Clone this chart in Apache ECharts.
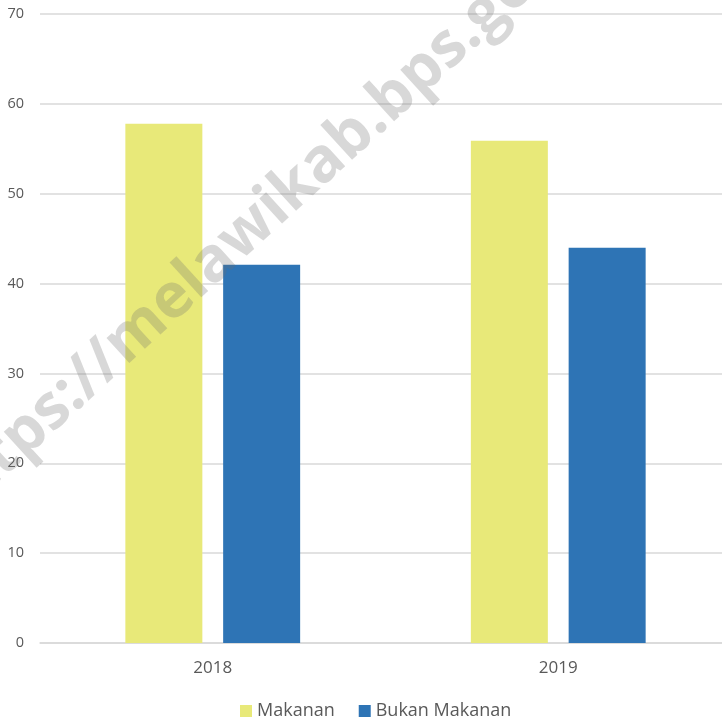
<!DOCTYPE html>
<html><head><meta charset="utf-8">
<script src="https://cdn.jsdelivr.net/npm/echarts@6/dist/echarts.min.js"></script>
<style>html,body{margin:0;padding:0;background:#fff}#c{width:722px;height:723px}</style>
</head><body><div id="c"></div>
<script>
const categories = ['2018', '2019'];
const makanan = [57.8, 55.9];
const bukanMakanan = [42.1, 44.0];
const seriesNames = ['Makanan', 'Bukan Makanan'];
const yTicks = [0, 10, 20, 30, 40, 50, 60, 70];

const chart = echarts.init(document.getElementById('c'));
chart.setOption({
  animation: false,
  grid: { left: 40, width: 691, top: 14, bottom: 80, containLabel: false, outerBoundsMode: 'none' },
  legend: {
    top: 702, left: 240, padding: 0, itemWidth: 12, itemHeight: 12, itemGap: 24,
    icon: 'rect',
    textStyle: { fontSize: 18, color: '#595959', fontFamily: 'Open Sans' },
    data: seriesNames
  },
  xAxis: {
    type: 'category', data: categories,
    axisLine: { lineStyle: { color: '#d9d9d9', width: 1.5 } },
    axisTick: { show: false },
    axisLabel: { fontSize: 17, color: '#595959', margin: 17, fontFamily: 'Open Sans' }
  },
  yAxis: {
    type: 'value', min: yTicks[0], max: yTicks[yTicks.length - 1], interval: 10,
    axisLine: { show: false }, axisTick: { show: false },
    axisLabel: { fontSize: 14.5, color: '#595959', margin: 16, fontFamily: 'Open Sans' },
    splitLine: { lineStyle: { color: '#d9d9d9', width: 1.5 } }
  },
  series: [
    { name: seriesNames[0], type: 'bar', data: makanan, barWidth: 77, barGap: '27%',
      itemStyle: { color: '#e8e979' } },
    { name: seriesNames[1], type: 'bar', data: bukanMakanan, barWidth: 77, barGap: '27%',
      itemStyle: { color: '#2e74b5' } }
  ],
  graphic: [{
    type: 'text', x: 262, y: 218, rotation: 0.74, z: 100,
    style: {
      text: 'https://melawikab.bps.go.id', fontSize: 62, fontWeight: 'bold',
      fontFamily: 'Open Sans', fill: 'rgba(110,110,110,0.27)',
      align: 'center', verticalAlign: 'middle'
    }
  }]
});
</script></body></html>
